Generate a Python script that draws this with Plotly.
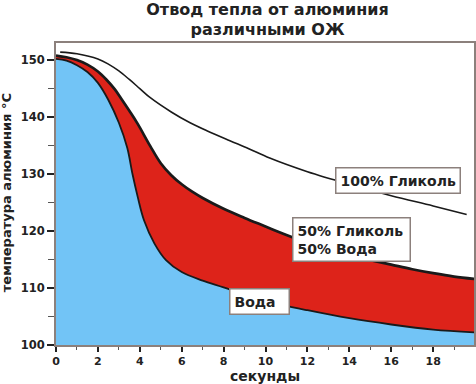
import plotly.graph_objects as go

# Data
water_t = [0, 0.5, 1.0, 1.5, 2.0, 2.5, 3.0, 3.4, 3.65, 3.9, 4.2, 4.7, 5.25, 6.0, 7.0, 8.0, 9, 10, 12, 14, 16, 18, 19.95]
water_T = [150.2, 149.9, 149.1, 147.9, 146.0, 143.0, 139.0, 134.6, 130.0, 126.0, 121.9, 117.8, 114.9, 112.8, 111.3, 110.1, 108.8, 107.7, 106.1, 104.7, 103.6, 102.7, 102.2]

mix_t = [0, 0.5, 1, 1.5, 2, 2.4, 2.8, 3.1, 3.5, 3.9, 4.5, 5, 5.5, 6, 6.5, 7, 8, 9, 10, 11, 12, 13, 14, 15, 16, 17, 18, 19, 19.95]
mix_T = [150.8, 150.5, 150.0, 149.2, 148.0, 146.6, 144.9, 143.3, 141.1, 138.8, 134.9, 131.9, 129.8, 128.2, 126.9, 125.8, 123.9, 122.3, 120.8, 119.3, 117.9, 116.7, 115.7, 114.9, 114.1, 113.3, 112.6, 112.0, 111.6]

glycol_t = [0.2, 1, 2, 2.5, 3, 3.5, 4, 4.5, 5.5, 6.4, 7.2, 8.3, 9.2, 10.2, 12, 14, 16, 18, 19.6]
glycol_T = [151.4, 151.1, 150.2, 149.3, 148.1, 146.6, 145.0, 143.4, 140.9, 139.0, 137.6, 135.85, 134.45, 132.8, 130.4, 128.2, 126.2, 124.4, 122.9]

x_ticks = [0, 2, 4, 6, 8, 10, 12, 14, 16, 18]
y_ticks = [100, 110, 120, 130, 140, 150]

title_text = "Отвод тепла от алюминия<br>различными ОЖ"
x_title = "секунды"
y_title = "температура алюминия °C"
labels = ["100% Гликоль", "50% Гликоль<br>50% Вода", "Вода"]
label_pos = [(16.3, 128.9), (14.1, 118.5), (9.7, 107.7)]
label_width = [None, 108, 50]

FONT = "DejaVu Sans"
BORDER = "#8c807c"
INK = "#222222"

fig = go.Figure()
fig.add_trace(go.Scatter(x=water_t, y=water_T, mode="lines", fill="tozeroy",
                         fillcolor="#72c4f6", line=dict(color="#1a1a1a", width=1.8, shape="spline", smoothing=1),
                         hoverinfo="skip", showlegend=False))
fig.add_trace(go.Scatter(x=mix_t, y=mix_T, mode="lines", fill="tonexty",
                         fillcolor="#dd231a", line=dict(color="#1a1a1a", width=2.7, shape="spline", smoothing=1),
                         hoverinfo="skip", showlegend=False))
fig.add_trace(go.Scatter(x=glycol_t, y=glycol_T, mode="lines",
                         line=dict(color="#1a1a1a", width=1.6, shape="spline", smoothing=1),
                         hoverinfo="skip", showlegend=False))

for txt, (tx, ty), w in zip(labels, label_pos, label_width):
    fig.add_annotation(x=tx, y=ty, xref="x", yref="y", text="<b>" + txt + "</b>",
                       showarrow=False, align="left", bgcolor="white", width=w,
                       bordercolor=BORDER, borderwidth=1.5, borderpad=4,
                       font=dict(family=FONT, size=14, color=INK))

# Axis titles as annotations for exact placement
fig.add_annotation(x=0.5, y=-0.103, xref="paper", yref="paper", text="<b>" + x_title + "</b>",
                   showarrow=False, xanchor="center", yanchor="middle",
                   font=dict(family=FONT, size=14, color=INK))
fig.add_annotation(x=-0.118, y=0.505, xref="paper", yref="paper", text="<b>" + y_title + "</b>",
                   showarrow=False, xanchor="center", yanchor="middle", textangle=-90,
                   font=dict(family=FONT, size=13, color=INK))

fig.update_layout(
    width=476, height=384,
    margin=dict(l=56, r=2, t=43, b=39, autoexpand=False),
    paper_bgcolor="white", plot_bgcolor="white",
    title=dict(text="<b>" + title_text + "</b>", x=0.562, xanchor="center",
               y=0.962, yanchor="middle", yref="container",
               font=dict(family=FONT, size=16, color=INK)),
    font=dict(family=FONT, color=INK),
)
fig.update_xaxes(range=[0, 19.95], tickvals=x_ticks, ticktext=["<b>%d</b>" % v for v in x_ticks],
                 ticks="outside", ticklen=5, tickwidth=1.5, tickcolor=INK,
                 minor=dict(dtick=1, ticks="outside", ticklen=3, tickwidth=1, tickcolor="#555"),
                 showline=True, linecolor=BORDER, linewidth=2, mirror=True,
                 showgrid=False, zeroline=False, automargin=False,
                 tickfont=dict(family=FONT, size=11, color=INK))
fig.update_yaxes(range=[100, 153], tickvals=y_ticks, ticktext=["<b>%d</b>" % v for v in y_ticks],
                 ticks="outside", ticklen=7, tickwidth=1.5, tickcolor=INK,
                 minor=dict(dtick=5, ticks="outside", ticklen=6, tickwidth=1, tickcolor="#555"),
                 showline=True, linecolor=BORDER, linewidth=2, mirror=True,
                 showgrid=False, zeroline=False, automargin=False,
                 tickfont=dict(family=FONT, size=11.5, color=INK))

fig.write_html("out.html", config={"displayModeBar": False},
               post_script="document.body.style.margin='0';document.body.style.padding='0';")
